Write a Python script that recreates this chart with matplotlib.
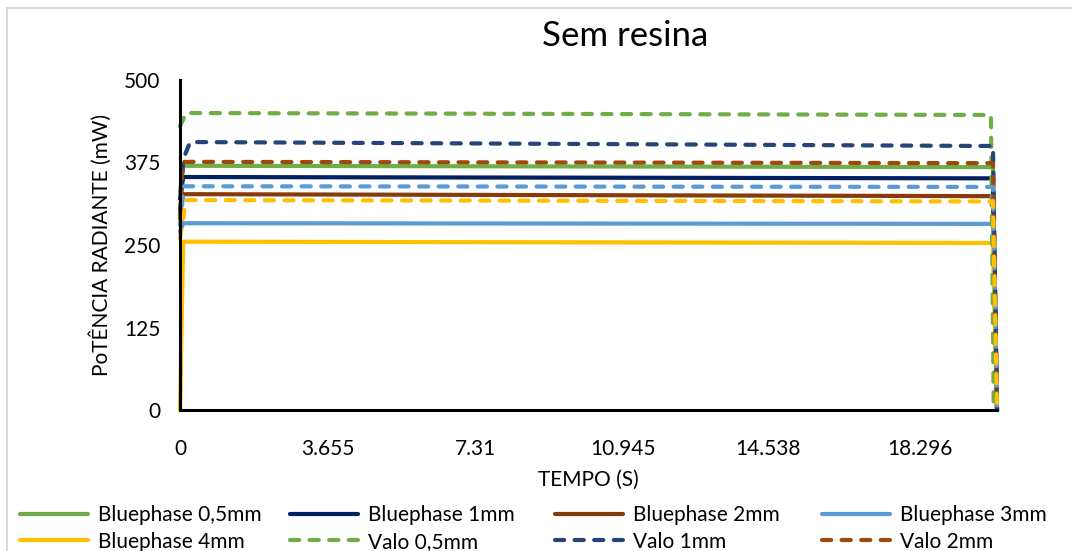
import matplotlib
matplotlib.use("Agg")
import matplotlib.pyplot as plt
from matplotlib.patches import Rectangle

plt.rcParams['font.family'] = ['Lato', 'DejaVu Sans']

# series: name, times (s), power (mW)
names = ["Bluephase 0,5mm", "Bluephase 1mm", "Bluephase 2mm", "Bluephase 3mm",
         "Bluephase 4mm", "Valo 0,5mm", "Valo 1mm", "Valo 2mm", "Valo 3mm", "Valo 4mm"]

bp05_t = [0, 0.08, 20.1, 20.2]
bp05_y = [330, 370, 368, 0]
bp1_t = [0, 0.08, 20.1, 20.2]
bp1_y = [320, 353, 351, 0]
bp2_t = [0, 0.08, 20.1, 20.2]
bp2_y = [300, 327, 324, 0]
bp3_t = [0, 0.08, 20.1, 20.2]
bp3_y = [270, 283, 282, 0]
bp4_t = [0, 0.08, 20.1, 20.2]
bp4_y = [0, 255, 253, 0]
v05_t = [0, 0.15, 20.05, 20.12]
v05_y = [430, 450, 447, 0]
v1_t = [0, 0.08, 0.25, 20.1, 20.2]
v1_y = [300, 380, 406, 400, 0]
v2_t = [0, 0.06, 20.1, 20.2]
v2_y = [290, 376, 374, 0]
v3_t = [0, 0.1, 20.1, 20.2]
v3_y = [280, 339, 338, 0]
v4_t = [0, 0.15, 20.1, 20.2]
v4_y = [260, 318, 316, 0]

series_t = [bp05_t, bp1_t, bp2_t, bp3_t, bp4_t, v05_t, v1_t, v2_t, v3_t, v4_t]
series_y = [bp05_y, bp1_y, bp2_y, bp3_y, bp4_y, v05_y, v1_y, v2_y, v3_y, v4_y]
colors = ["#70AD47", "#002060", "#843C0C", "#5B9BD5", "#FFC000",
          "#70AD47", "#264478", "#9E480E", "#5B9BD5", "#FFC000"]
dashed = [False] * 5 + [True] * 5

xtick_vals = [0, 3.655, 7.31, 10.945, 14.538, 18.296]
xtick_labels = ["0", "3.655", "7.31", "10.945", "14.538", "18.296"]
ytick_vals = [0, 125, 250, 375, 500]

fig = plt.figure(figsize=(10.72, 5.51), dpi=100)
ax = fig.add_axes([180 / 1072, 1 - 410 / 551, 817 / 1072, 330 / 551])

handles = []
for name, t, y, c, d in zip(names, series_t, series_y, colors, dashed):
    ls = (0, (2.2, 2.5)) if d else '-'
    h, = ax.plot(t, y, color=c, lw=3.0, ls=ls, label=name,
                 dash_capstyle='round', solid_capstyle='round', solid_joinstyle='round',
                 dash_joinstyle='round', clip_on=False)
    handles.append(h)

ax.set_xlim(0, 20.2)
ax.set_ylim(0, 500)
ax.set_xticks(xtick_vals)
ax.set_xticklabels(xtick_labels)
ax.set_yticks(ytick_vals)
ax.tick_params(length=0, labelsize=15, pad=14)
ax.tick_params(axis='x', pad=21)
for s in ['top', 'right']:
    ax.spines[s].set_visible(False)
for s in ['left', 'bottom']:
    ax.spines[s].set_linewidth(2.2)
    ax.spines[s].set_color('black')

fig.text(625 / 1072, 1 - 36 / 551, "Sem resina", fontsize=25, ha='center', va='center')
ax.set_xlabel("TEMPO (S)", fontsize=15, labelpad=8)
ax.set_ylabel("PoTÊNCIA RADIANTE (mW)", fontsize=15, labelpad=9)

# legend: one column at a time, row-major like Excel (third row falls outside the picture)
col_x = [20, 290, 555, 822]
for k, x0 in enumerate(col_x):
    idx = list(range(k, len(names), 4))
    fig.legend([handles[i] for i in idx], [names[i] for i in idx],
               loc='upper left', bbox_to_anchor=(x0 / 1072, 1 - 505 / 551),
               frameon=False, fontsize=15, handlelength=3.25, handletextpad=0.5,
               labelspacing=0.32, borderpad=0, borderaxespad=0)

# chart area border
fig.patches.append(Rectangle((7 / 1072, -0.1), 1.2, 1.1 - 8 / 551, transform=fig.transFigure,
                             fill=False, edgecolor='#D9D9D9', lw=1.5))

fig.savefig("out.png", dpi=100)
